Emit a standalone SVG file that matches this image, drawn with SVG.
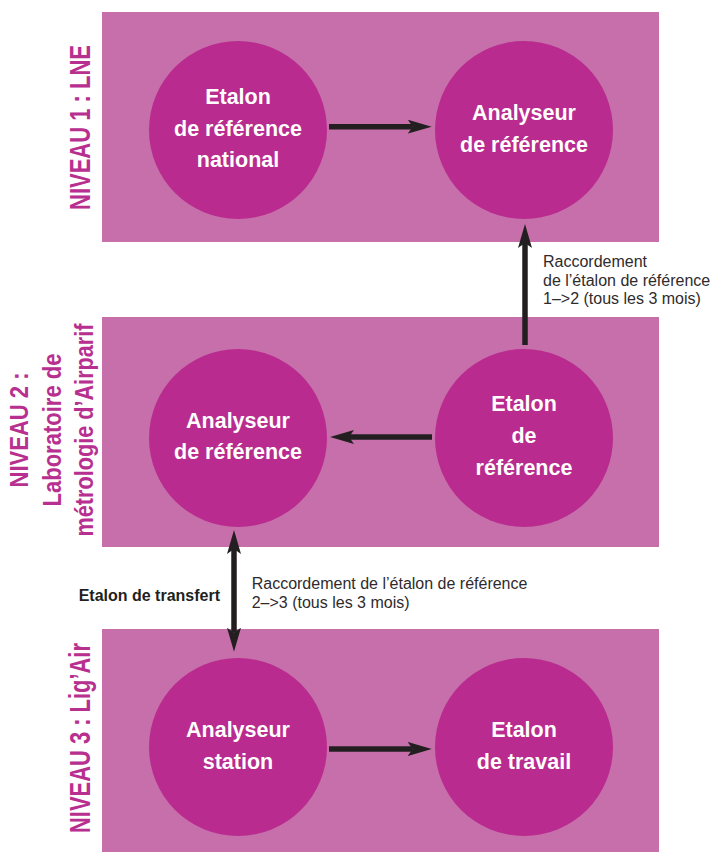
<svg xmlns="http://www.w3.org/2000/svg" width="715" height="852" viewBox="0 0 715 852">
<style>
.box{fill:#c66fab}
.circ{fill:#b92b8e}
.ct{font-family:"Liberation Sans",Arial,sans-serif;font-weight:bold;font-size:21.5px;fill:#ffffff;text-anchor:middle}
.lvl{font-family:"Liberation Sans",Arial,sans-serif;font-weight:bold;fill:#b8308f;text-anchor:middle}
.ann{font-family:"Liberation Sans",Arial,sans-serif;font-size:16px;fill:#2f2b2c}
.annb{font-family:"Liberation Sans",Arial,sans-serif;font-size:16px;font-weight:bold;fill:#231f20;text-anchor:end}
.conn{stroke:#231f20;stroke-width:5.5;fill:none}
</style>
<defs>
<marker id="ah" viewBox="0 0 24 14" markerUnits="userSpaceOnUse" markerWidth="24" markerHeight="14" refX="5" refY="7" orient="auto-start-reverse">
<path d="M0,0 L24,7 L0,14 L5,7 Z" fill="#231f20"/>
</marker>
</defs>
<rect class="box" x="102" y="12" width="557" height="230"/>
<rect class="box" x="102" y="317" width="557" height="230"/>
<rect class="box" x="102" y="629" width="557" height="230"/>
<g id="label-niveau1">
<text class="lvl" font-size="29.5" textLength="165" lengthAdjust="spacingAndGlyphs" transform="translate(89.5,127.5) rotate(-90)">NIVEAU 1 : LNE</text>
</g>
<g id="label-niveau2">
<text class="lvl" font-size="26.5" textLength="115" lengthAdjust="spacingAndGlyphs" transform="translate(28,430) rotate(-90)">NIVEAU 2 :</text>
<text class="lvl" font-size="26.5" textLength="153" lengthAdjust="spacingAndGlyphs" transform="translate(61,430) rotate(-90)">Laboratoire de</text>
<text class="lvl" font-size="26.5" textLength="213" lengthAdjust="spacingAndGlyphs" transform="translate(93,430) rotate(-90)">métrologie d’Airparif</text>
</g>
<g id="label-niveau3">
<text class="lvl" font-size="29.5" textLength="190" lengthAdjust="spacingAndGlyphs" transform="translate(89.5,738) rotate(-90)">NIVEAU 3 : Lig’Air</text>
</g>
<g id="n1-etalon-national">
<circle class="circ" cx="238" cy="130" r="89"/>
<text class="ct" x="238" y="104">Etalon</text>
<text class="ct" x="238" y="135.5">de référence</text>
<text class="ct" x="238" y="167">national</text>
</g>
<g id="n1-analyseur">
<circle class="circ" cx="524" cy="130" r="89"/>
<text class="ct" x="524" y="119.5">Analyseur</text>
<text class="ct" x="524" y="151.5">de référence</text>
</g>
<g id="n2-analyseur">
<circle class="circ" cx="238" cy="438" r="89"/>
<text class="ct" x="238" y="427.7">Analyseur</text>
<text class="ct" x="238" y="459.3">de référence</text>
</g>
<g id="n2-etalon">
<circle class="circ" cx="524" cy="438" r="89"/>
<text class="ct" x="524" y="411">Etalon</text>
<text class="ct" x="524" y="443.3">de</text>
<text class="ct" x="524" y="475">référence</text>
</g>
<g id="n3-analyseur-station">
<circle class="circ" cx="238" cy="747" r="89"/>
<text class="ct" x="238" y="737.3">Analyseur</text>
<text class="ct" x="238" y="769.3">station</text>
</g>
<g id="n3-etalon-travail">
<circle class="circ" cx="524" cy="747" r="89"/>
<text class="ct" x="524" y="737.3">Etalon</text>
<text class="ct" x="524" y="769.3">de travail</text>
</g>
<g id="connectors">
<line class="conn" x1="329" y1="126.7" x2="412.7" y2="126.7" marker-end="url(#ah)"/>
<line class="conn" x1="525" y1="345" x2="525" y2="243" marker-end="url(#ah)"/>
<line class="conn" x1="432" y1="437" x2="349" y2="437" marker-end="url(#ah)"/>
<line class="conn" x1="329" y1="749" x2="412.7" y2="749" marker-end="url(#ah)"/>
<line class="conn" x1="234" y1="549" x2="234" y2="632.7" marker-start="url(#ah)" marker-end="url(#ah)"/>
</g>
<g id="annotations">
<text class="ann" x="543" y="267">Raccordement</text>
<text class="ann" x="543" y="285.5">de l’étalon de référence</text>
<text class="ann" x="543" y="304">1–&gt;2 (tous les 3 mois)</text>
<text class="ann" x="251.7" y="589.3">Raccordement de l’étalon de référence</text>
<text class="ann" x="251.7" y="607.5">2–&gt;3 (tous les 3 mois)</text>
<text class="annb" x="220" y="601">Etalon de transfert</text>
</g>
</svg>
